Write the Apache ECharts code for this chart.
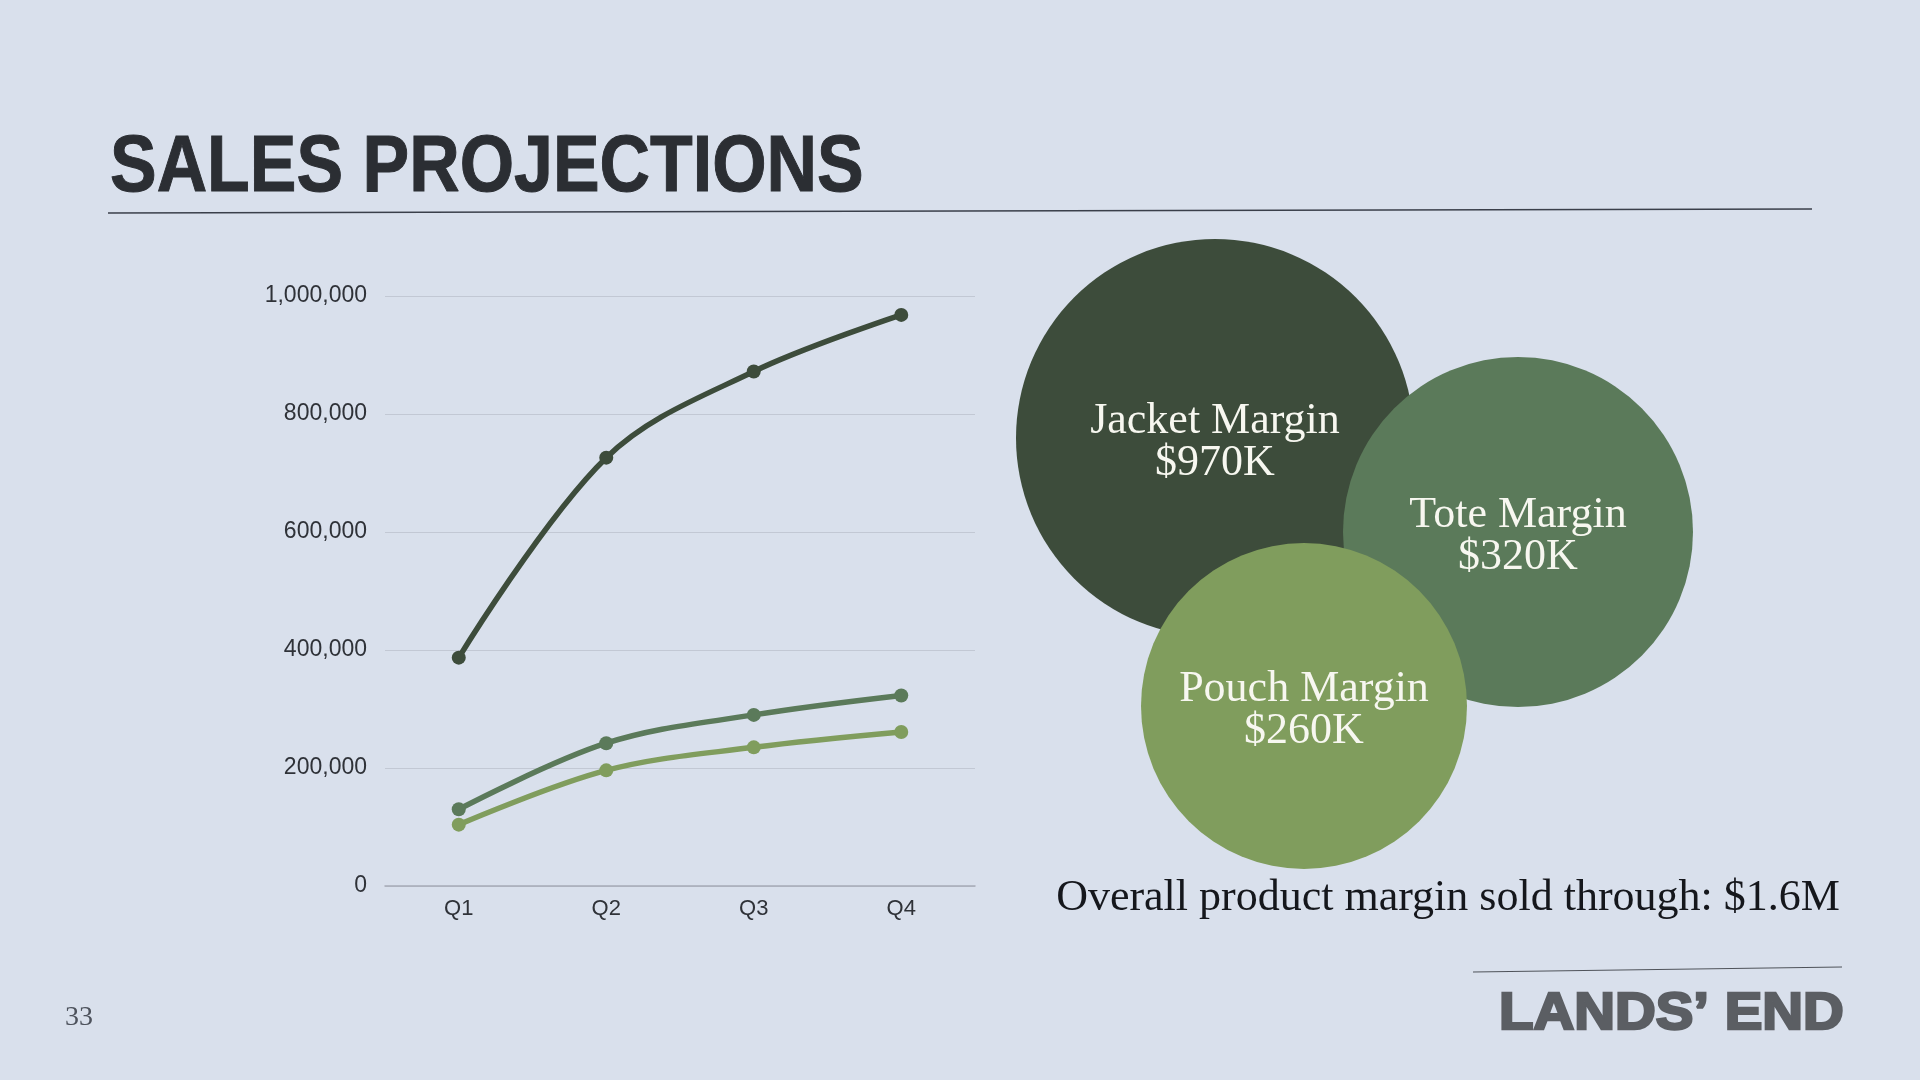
<!DOCTYPE html>
<html>
<head>
<meta charset="utf-8">
<title>Sales Projections</title>
<script src="https://cdn.jsdelivr.net/npm/echarts@6/dist/echarts.min.js"></script>
<style>
  html, body { margin: 0; padding: 0; background: #d9e0ec; }
  #main { width: 1920px; height: 1080px; }
</style>
</head>
<body>
<div id="main"></div>
<script>
// data
const quarters = ['Q1', 'Q2', 'Q3', 'Q4'];
const jacketSales = [387000, 726000, 872000, 968000];
const toteSales = [130000, 242000, 290000, 323000];
const pouchSales = [104000, 196000, 235000, 261000];
const yTicks = [0, 200000, 400000, 600000, 800000, 1000000];

const marginNames = ['Jacket Margin', 'Tote Margin', 'Pouch Margin'];
const marginTotals = ['$970K', '$320K', '$260K'];
const overallMargin = '$1.6M';

const colors = ['#3d4c3b', '#5b7a5a', '#809d5d'];
// bubble layout: [cx, cy, r]
const bubbles = [[1215, 438, 199], [1518, 532, 175], [1304, 706, 163]];

const myChart = echarts.init(document.getElementById('main'));

function makeSeries(name, data, color) {
  return {
    name: name,
    type: 'line',
    data: data,
    smooth: 0.35,
    symbol: 'circle',
    symbolSize: 14,
    lineStyle: { color: color, width: 5.5 },
    itemStyle: { color: color },
    z: 3
  };
}

const graphics = [];
// title + rule
graphics.push({
  type: 'text', x: 110, y: 169, scaleX: 0.885,
  style: { text: 'SALES PROJECTIONS', font: 'bold 79px "Liberation Sans", Arial, sans-serif',
    fill: '#2b2e33', stroke: '#2b2e33', lineWidth: 1, align: 'left', verticalAlign: 'middle' }
});
graphics.push({
  type: 'line', shape: { x1: 108, y1: 213, x2: 1812, y2: 209 },
  style: { stroke: '#3a3f4a', lineWidth: 1.5 }
});

// bubbles, jacket at the back, pouch on top
bubbles.forEach((b, i) => {
  graphics.push({
    type: 'circle', shape: { cx: b[0], cy: b[1], r: b[2] },
    style: { fill: colors[i] }, z: 10 + i * 2
  });
  graphics.push({
    type: 'text', x: b[0], y: b[1] + 4, z: 11 + i * 2,
    style: { text: marginNames[i] + '\n' + marginTotals[i],
      font: '44px "Liberation Serif", "Times New Roman", serif', lineHeight: 42,
      fill: '#f7f7f0', align: 'center', verticalAlign: 'middle' }
  });
});

graphics.push({
  type: 'text', x: 1448, y: 898,
  style: { text: 'Overall product margin sold through: ' + overallMargin,
    font: '44px "Liberation Serif", "Times New Roman", serif',
    fill: '#15171c', align: 'center', verticalAlign: 'middle' }
});

// footer
graphics.push({
  type: 'text', x: 65, y: 1018,
  style: { text: '33', font: '28px "Liberation Serif", serif', fill: '#4d525c',
    align: 'left', verticalAlign: 'middle' }
});
graphics.push({
  type: 'line', shape: { x1: 1473, y1: 972, x2: 1842, y2: 967 },
  style: { stroke: '#4f535a', lineWidth: 1.2 }
});
graphics.push({
  type: 'text', x: 1499, y: 1015, scaleX: 1.085,
  style: { text: 'LANDS\u2019 END', font: 'bold 52px "Liberation Sans", Arial, sans-serif',
    fill: '#5b5e63', stroke: '#5b5e63', lineWidth: 2.5, align: 'left', verticalAlign: 'middle' }
});

const option = {
  backgroundColor: '#d9e0ec',
  animation: false,
  grid: { left: 385, right: 945, top: 296, bottom: 194, containLabel: false },
  xAxis: {
    type: 'category',
    data: quarters,
    boundaryGap: true,
    axisLine: { show: true, lineStyle: { color: '#a7abb6', width: 1.5 } },
    axisTick: { show: false },
    axisLabel: { color: '#2f3238', fontSize: 22, margin: 12,
      fontFamily: '"Liberation Sans", Arial, sans-serif' }
  },
  yAxis: {
    type: 'value',
    min: yTicks[0],
    max: yTicks[yTicks.length - 1],
    interval: yTicks[1] - yTicks[0],
    axisLine: { show: false },
    axisTick: { show: false },
    splitLine: { lineStyle: { color: '#c2c8d4', width: 1 } },
    axisLabel: { color: '#2f3238', fontSize: 23, margin: 18,
      fontFamily: '"Liberation Sans", Arial, sans-serif',
      formatter: v => v.toLocaleString('en-US') }
  },
  series: [
    makeSeries('Jacket', jacketSales, colors[0]),
    makeSeries('Tote', toteSales, colors[1]),
    makeSeries('Pouch', pouchSales, colors[2])
  ],
  graphic: graphics
};

myChart.setOption(option);
</script>
</body>
</html>
